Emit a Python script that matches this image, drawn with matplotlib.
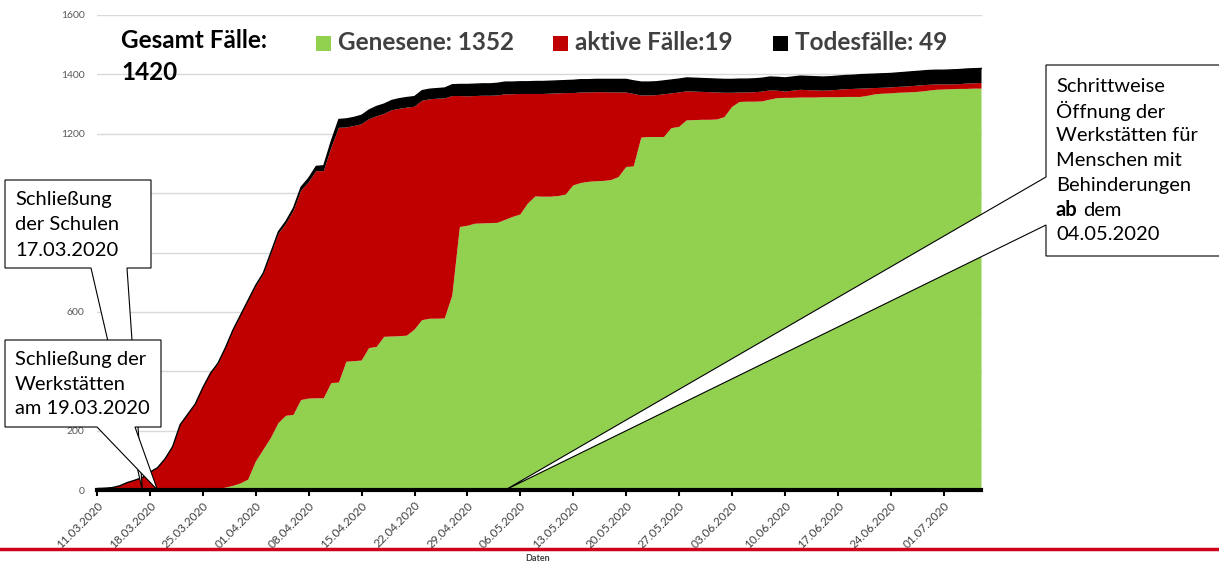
import numpy as np
import pandas as pd
import matplotlib
matplotlib.use("Agg")
import matplotlib.pyplot as plt
import matplotlib.dates as mdates
from matplotlib.patches import Polygon, Rectangle
from matplotlib.lines import Line2D

# daily values 11.03.2020 - 06.07.2020
dates = pd.date_range("2020-03-11", "2020-07-06", freq="D")
total = [5, 6, 8, 14, 25, 33, 42, 60, 75, 105,
         146, 220, 255, 290, 345, 393, 427, 480, 540, 590,
         640, 690, 731, 800, 870, 905, 950, 1020, 1050, 1090,
         1092, 1175, 1248, 1250, 1255, 1262, 1280, 1292, 1300, 1312,
         1318, 1322, 1325, 1345, 1350, 1352, 1354, 1365, 1366, 1366,
         1367, 1368, 1368, 1370, 1374, 1374, 1375, 1375, 1376, 1376,
         1377, 1378, 1379, 1380, 1382, 1382, 1383, 1383, 1383, 1383,
         1383, 1378, 1374, 1374, 1375, 1378, 1381, 1384, 1388, 1387,
         1386, 1385, 1384, 1383, 1383, 1384, 1384, 1385, 1387, 1391,
         1390, 1388, 1391, 1394, 1393, 1392, 1391, 1392, 1394, 1396,
         1397, 1399, 1400, 1401, 1402, 1403, 1405, 1407, 1409, 1411,
         1413, 1414, 1414, 1415, 1416, 1418, 1419, 1420]
recovered = [0, 0, 0, 0, 0, 0, 0, 0, 0, 0,
             0, 0, 0, 0, 0, 1, 3, 8, 14, 22,
             35, 95, 135, 175, 225, 250, 253, 303, 308, 309,
             309, 360, 362, 432, 434, 436, 478, 482, 516, 517,
             518, 520, 540, 572, 577, 577, 578, 655, 886, 890,
             897, 898, 899, 900, 910, 920, 928, 965, 989, 988,
             988, 990, 995, 1026, 1034, 1038, 1040, 1041, 1044, 1054,
             1088, 1090, 1187, 1189, 1189, 1189, 1219, 1223, 1245, 1246,
             1247, 1247, 1248, 1256, 1290, 1307, 1308, 1308, 1309, 1315,
             1320, 1321, 1321, 1322, 1322, 1322, 1323, 1323, 1323, 1324,
             1324, 1324, 1328, 1333, 1335, 1336, 1338, 1339, 1340, 1342,
             1345, 1348, 1349, 1350, 1351, 1351, 1352, 1352]
deaths = [0, 0, 0, 0, 0, 0, 0, 0, 0, 0,
          0, 1, 1, 1, 1, 1, 2, 2, 2, 2,
          3, 4, 5, 6, 8, 9, 10, 12, 14, 16,
          18, 22, 28, 29, 29, 30, 31, 33, 33, 33,
          34, 34, 34, 34, 34, 34, 35, 38, 39, 40,
          40, 40, 40, 41, 41, 41, 41, 41, 42, 42,
          42, 42, 42, 43, 43, 43, 43, 43, 44, 44,
          44, 44, 45, 45, 45, 45, 45, 45, 45, 45,
          45, 45, 45, 45, 45, 45, 45, 45, 45, 45,
          45, 46, 46, 46, 46, 46, 46, 46, 46, 46,
          46, 47, 47, 47, 47, 47, 47, 48, 48, 48,
          48, 48, 48, 49, 49, 49, 49, 49]
active = np.array(total) - np.array(recovered) - np.array(deaths)

green = "#92D050"
red = "#C00000"
black = "#000000"
grey = "#595959"
dark = "#404040"

plt.rcParams['font.family'] = ['Lato', 'DejaVu Sans']

W, H = 1219, 563
fig = plt.figure(figsize=(W / 100, H / 100), dpi=100)
ax = fig.add_axes([97 / W, 1 - 490 / H, (981.5 - 97) / W, (490 - 15) / H])

ax.stackplot(dates, recovered, active, deaths, colors=[green, red, black], lw=0)
ax.plot(dates, total, color=black, lw=1)

ax.set_xlim(dates[0], dates[-1])
ax.set_ylim(0, 1600)
yt = list(range(0, 1601, 200))
ax.set_yticks(yt)
# 400, 800 and 1000 sit under the callout boxes in the original
ax.set_yticklabels(["" if v in (400, 800, 1000) else str(v) for v in yt])
ax.grid(axis="y", color="#d9d9d9", lw=1)
ax.set_axisbelow(True)

for s in ["top", "right", "left"]:
    ax.spines[s].set_visible(False)
ax.spines["bottom"].set_linewidth(3)

ax.set_xticks(dates[::7])
ax.set_xticklabels([d.strftime("%d.%m.%Y") for d in dates[::7]], rotation=45,
                   ha="right", rotation_mode="anchor")
ax.tick_params(axis="x", direction="out", length=4, width=1.5, color=black,
               labelsize=8.5, labelcolor=dark, pad=3)
ax.tick_params(axis="y", length=0, pad=9, labelsize=7.5, labelcolor=grey)

ax.set_xlabel("Daten", fontsize=6.5, fontweight="bold", color=dark)
ax.xaxis.set_label_coords(0.4986, -0.135)

# red rule under the chart
fig.add_artist(Line2D([0, 1], [1 - 549 / H] * 2, color="#D0021B", lw=2.5,
                      transform=fig.transFigure))


def px(x, y):
    return (x / W, 1 - y / H)


def tip_at(day):
    p = ax.transData.transform((mdates.date2num(day), 0))
    return tuple(fig.transFigure.inverted().transform(p))


def box_bottom_tail(l, t, r, b, t1, t2, tip):
    verts = [px(l, t), px(r, t), px(r, b), px(t2, b), tip, px(t1, b), px(l, b)]
    fig.add_artist(Polygon(verts, closed=True, facecolor="white", edgecolor=black,
                           lw=0.8, transform=fig.transFigure))


# title and legend
fig.text(121 / W, 1 - 41 / H, "Gesamt Fälle:", fontsize=17.5, fontweight="bold",
         va="center", ha="left")
fig.text(121 / W, 1 - 73 / H, str(total[-1]), fontsize=17.5, fontweight="bold",
         va="center", ha="left")

items = [(316, green, f"Genesene: {recovered[-1]}"),
         (553, red, f"aktive Fälle:{active[-1]}"),
         (773, black, f"Todesfälle: {deaths[-1]}")]
for x0, c, lab in items:
    fig.add_artist(Rectangle(px(x0, 51), 15 / W, 15 / H, facecolor=c, lw=0,
                             transform=fig.transFigure))
    fig.text((x0 + 22) / W, 1 - 43 / H, lab, fontsize=17.5, fontweight="bold",
             color=dark, va="center", ha="left")

fs = 14.5
# callouts
box_bottom_tail(5, 180, 151, 268, 91, 127, tip_at(pd.Timestamp("2020-03-17")))
for i, s in enumerate(["Schließung", "der Schulen", "17.03.2020"]):
    fig.text(15 / W, 1 - (199 + 25.5 * i) / H, s, fontsize=fs, va="center", ha="left")

box_bottom_tail(5, 340, 161, 427, 97, 135, tip_at(pd.Timestamp("2020-03-19")))
for i, s in enumerate(["Schließung der", "Werkstätten", "am 19.03.2020"]):
    fig.text(15 / W, 1 - (359 + 25 * i) / H, s, fontsize=fs, va="center", ha="left")

tip3 = tip_at(pd.Timestamp("2020-05-04"))
verts = [px(1046, 65), px(1230, 65), px(1230, 256), px(1046, 256), px(1046, 225),
         tip3, px(1046, 177)]
fig.add_artist(Polygon(verts, closed=True, facecolor="white", edgecolor=black,
                       lw=0.8, transform=fig.transFigure))
lines3 = ["Schrittweise", "Öffnung der", "Werkstätten für", "Menschen mit",
          "Behinderungen"]
for i, s in enumerate(lines3):
    fig.text(1056 / W, 1 - (86 + 24.8 * i) / H, s, fontsize=fs, va="center", ha="left")
ab = fig.text(1056 / W, 1 - 210 / H, "ab", fontsize=fs, fontweight="bold",
              va="center", ha="left")
r = fig.canvas.get_renderer()
ab_right = ab.get_window_extent(r).x1
fig.text(ab_right / W + 5 / W, 1 - 210 / H, "dem", fontsize=fs, va="center", ha="left")
fig.text(1056 / W, 1 - 235 / H, "04.05.2020", fontsize=fs, va="center", ha="left")

fig.savefig("out.png", dpi=100)
